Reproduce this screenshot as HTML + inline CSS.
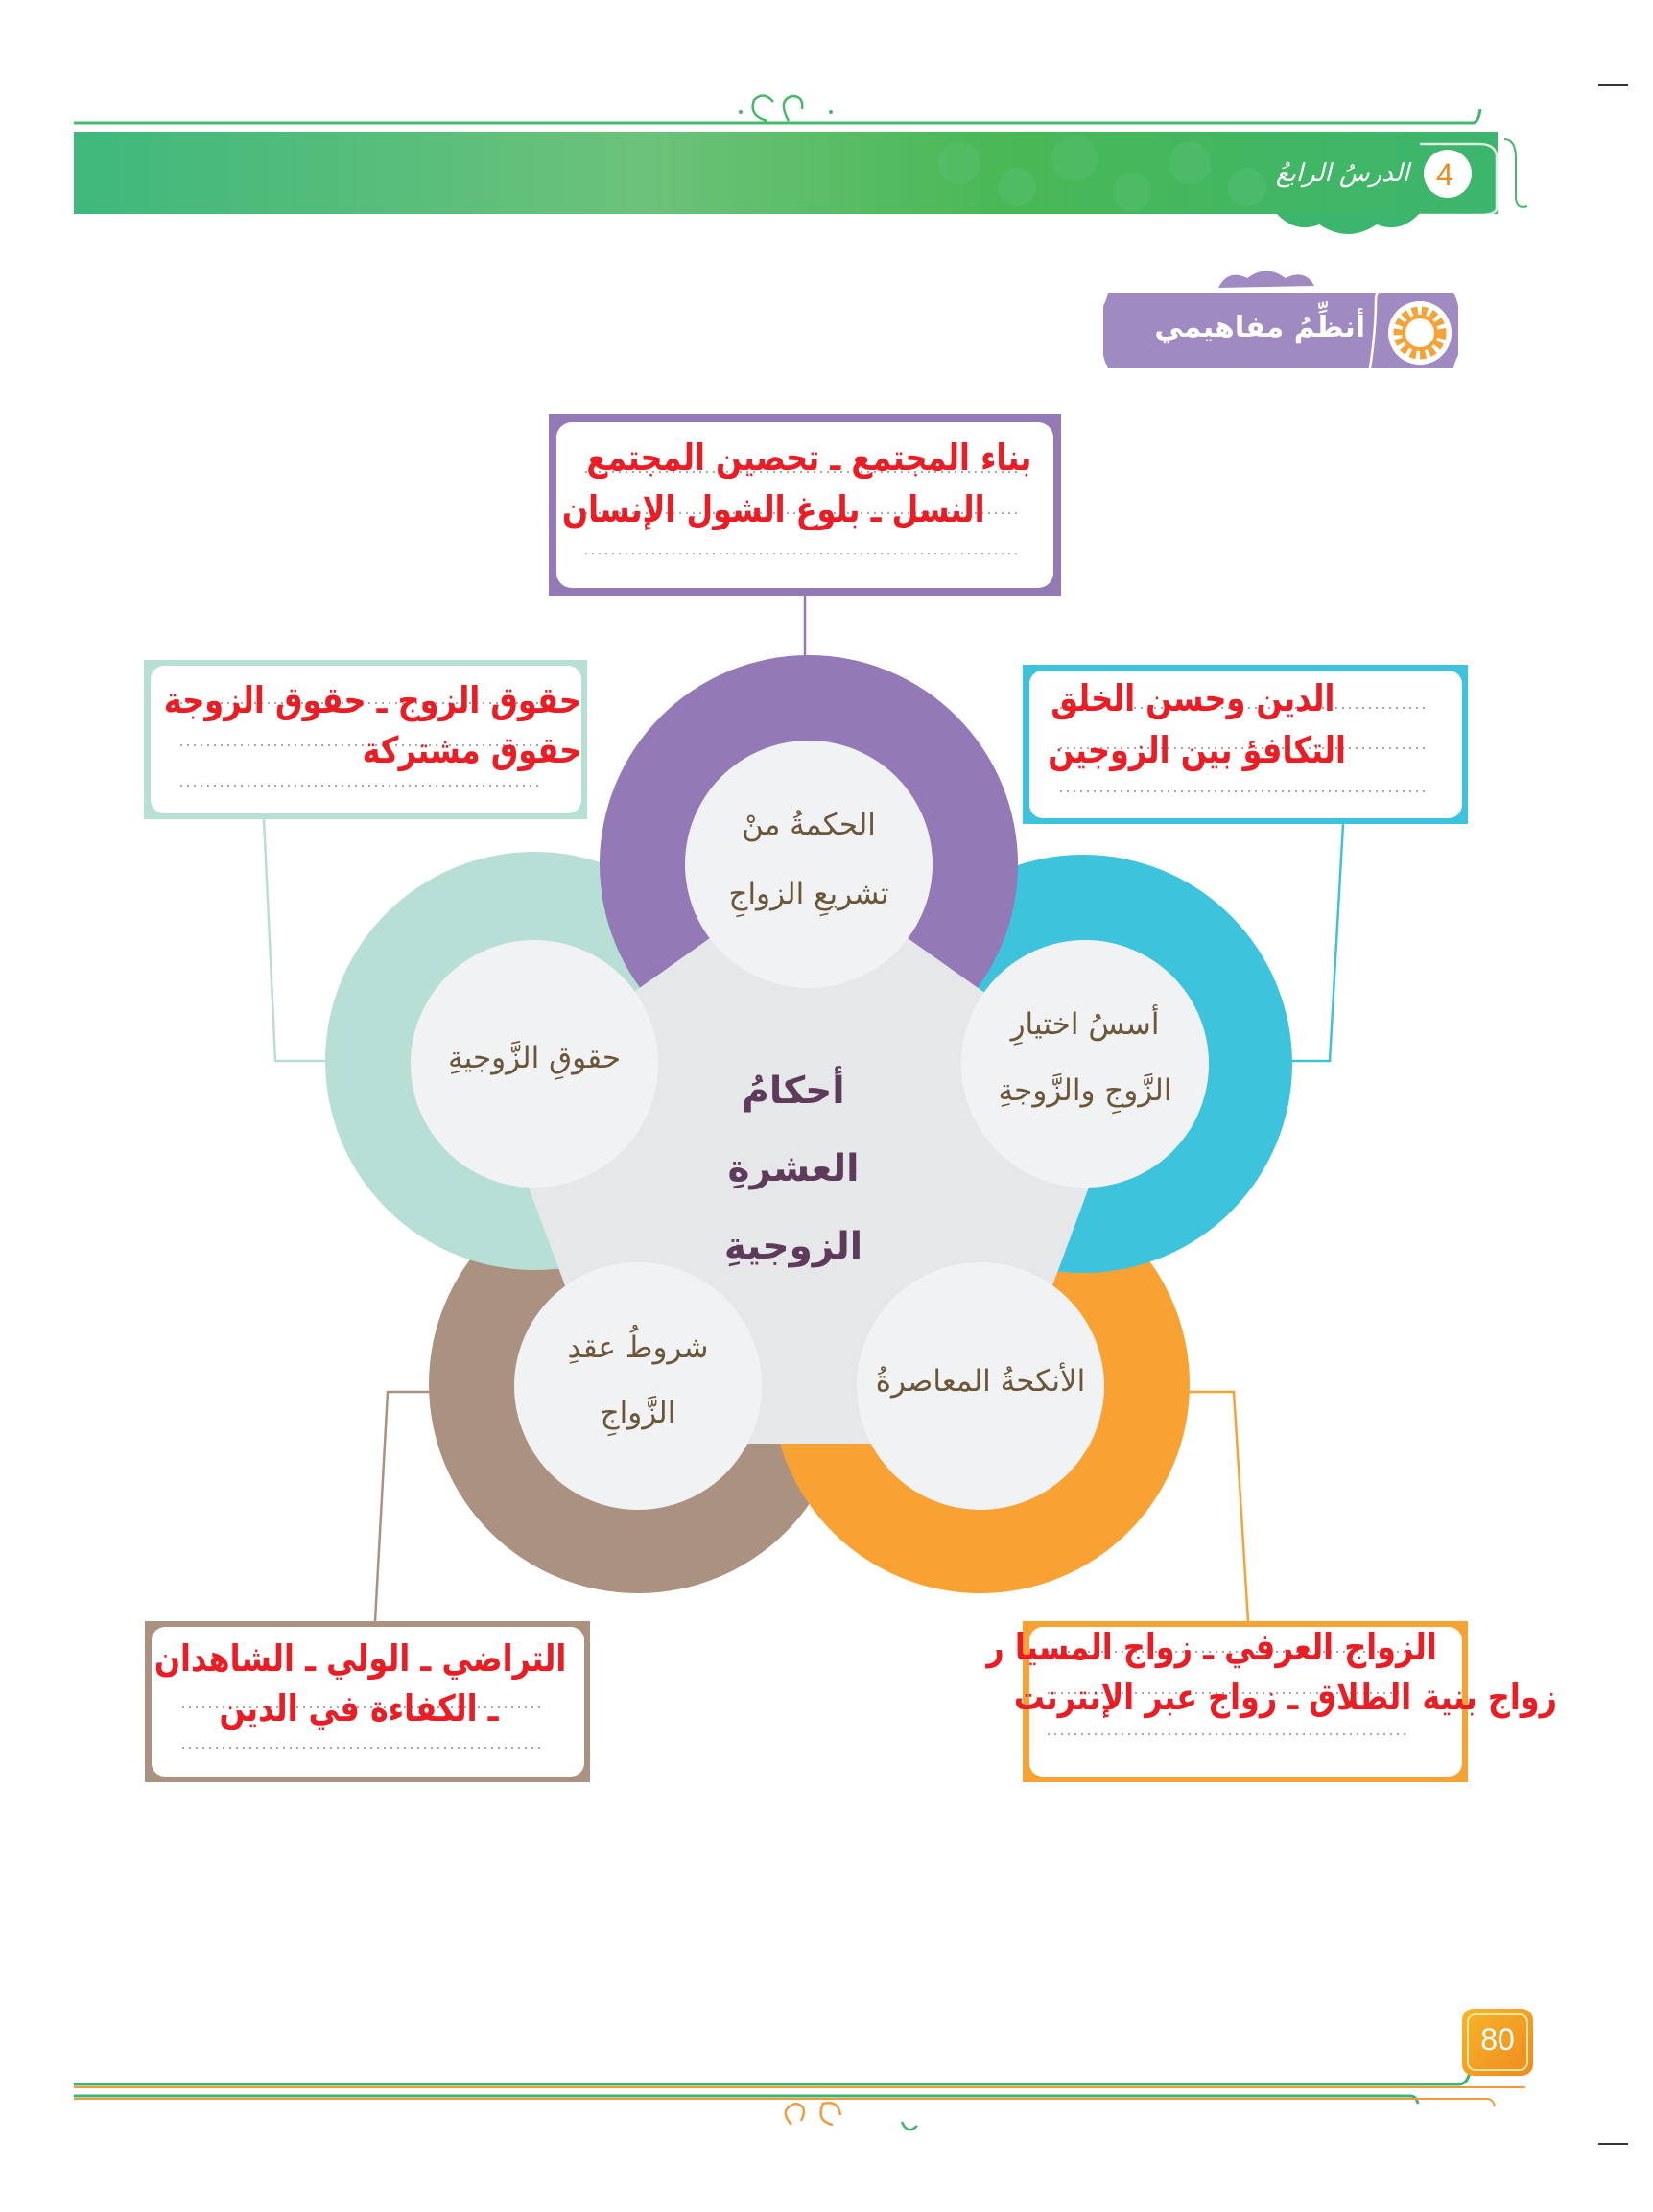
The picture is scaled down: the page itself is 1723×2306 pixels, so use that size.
<!DOCTYPE html>
<html><head><meta charset="utf-8">
<style>
html,body{margin:0;padding:0;background:#fff;}
body{width:1723px;height:2306px;position:relative;overflow:hidden;font-family:"DejaVu Sans","Liberation Sans",sans-serif;}
.t{position:absolute;direction:rtl;white-space:nowrap;line-height:1;}
.red{color:#ec1c24;font-weight:bold;font-size:38px;transform:scaleX(0.84);transform-origin:100% 50%;}
.in{color:#6b5638;font-size:31px;text-align:center;width:260px;font-family:"DejaVu Serif","DejaVu Sans",serif;}
.cen{color:#5e3b5b;font-weight:bold;font-size:39px;text-align:center;width:300px;}
</style></head><body>
<svg width="1723" height="2306" style="position:absolute;left:0;top:0">
<defs>
<linearGradient id="bn" x1="0" x2="1">
<stop offset="0" stop-color="#3fb87c"/><stop offset="0.4" stop-color="#6cc27a"/><stop offset="0.65" stop-color="#49b855"/><stop offset="1" stop-color="#3cb56e"/>
</linearGradient>
<linearGradient id="pg" x1="0" y1="0" x2="1" y2="1"><stop offset="0" stop-color="#f7b52a"/><stop offset="1" stop-color="#ef8a1f"/></linearGradient>
</defs>
<path d="M77 128 H1535 q6 0 8 -14" stroke="#46b86a" stroke-width="3" fill="none"/>
<path d="M800 126 q-20 -5 -14 -22 q10 -10 20 2 M822 126 q-12 -22 4 -26 q12 0 10 14" stroke="#46b86a" stroke-width="2.5" fill="none"/>
<circle cx="772" cy="117" r="2" fill="#46b86a"/><circle cx="866" cy="117" r="2" fill="#46b86a"/>
<rect x="77" y="138" width="1484" height="85" fill="url(#bn)"/>
<g fill="#5cc27a" opacity="0.35">
<circle cx="1000" cy="170" r="22"/><circle cx="1060" cy="195" r="20"/><circle cx="1120" cy="165" r="24"/><circle cx="1180" cy="200" r="20"/><circle cx="1240" cy="170" r="22"/><circle cx="1300" cy="195" r="20"/>
</g>
<path d="M1330 222 q20 22 45 12 q30 20 60 0 q25 10 45 -12 z" fill="#3cb56e"/>
<path d="M1480 150 h62 q16 0 18 12 v56 q-2 6 -18 6 h-62" stroke="#fff" stroke-width="2.5" fill="none" opacity="0.8"/>
<path d="M1568 145 q12 0 12 20 v40 q0 14 12 10" stroke="#46b86a" stroke-width="2" fill="none"/>
<circle cx="1509" cy="181" r="25" fill="#fff"/>
<line x1="1666" y1="89" x2="1697" y2="89" stroke="#333" stroke-width="2"/>
<line x1="1666" y1="2235" x2="1697" y2="2235" stroke="#333" stroke-width="2"/>
<path d="M1270 300 q10 -20 30 -10 q20 -15 40 0 q20 -10 30 8 z" fill="#a08ac2"/>
<path d="M1155 305 H1515 q4 8 5 14 V370 q-4 8 -5 14 H1155 q-4 -8 -5 -14 V319 q4 -8 5 -14z" fill="#a08ac2"/>
<path d="M1428 384 q6 -40 6 -70 q0 -14 12 -16" stroke="#fff" stroke-width="2.5" fill="none"/>
<circle cx="1480" cy="347" r="33" fill="#fff"/>
<circle cx="1480" cy="347" r="23" fill="none" stroke="#f7a234" stroke-width="9" stroke-dasharray="6 4"/>
<circle cx="1480" cy="347" r="17" fill="none" stroke="#f7a234" stroke-width="4"/>
<rect x="572" y="432" width="534" height="189" fill="#9379b5"/>
<rect x="580" y="440" width="518" height="173" rx="16" fill="#fff"/>
<rect x="150" y="688" width="462" height="166" fill="#b8dfd6"/>
<rect x="157" y="694" width="449" height="154" rx="14" fill="#fff"/>
<rect x="1066" y="693" width="464" height="166" fill="#3ec3dd"/>
<rect x="1073" y="699" width="451" height="154" rx="14" fill="#fff"/>
<rect x="151" y="1690" width="464" height="168" fill="#ab9280"/>
<rect x="158" y="1696" width="451" height="156" rx="14" fill="#fff"/>
<rect x="1066" y="1690" width="464" height="168" fill="#f9a234"/>
<rect x="1073" y="1696" width="451" height="156" rx="14" fill="#fff"/>
<g stroke="#a7a7a7" stroke-width="2" stroke-dasharray="2 5">
<line x1="610" y1="492" x2="1060" y2="492"/><line x1="610" y1="535" x2="1060" y2="535"/><line x1="610" y1="577" x2="1060" y2="577"/>
<line x1="188" y1="733" x2="565" y2="733"/><line x1="188" y1="777" x2="565" y2="777"/><line x1="188" y1="819" x2="565" y2="819"/>
<line x1="1105" y1="738" x2="1485" y2="738"/><line x1="1105" y1="780" x2="1485" y2="780"/><line x1="1105" y1="825" x2="1485" y2="825"/>
<line x1="190" y1="1780" x2="565" y2="1780"/><line x1="190" y1="1822" x2="565" y2="1822"/>
<line x1="1092" y1="1722" x2="1470" y2="1722"/><line x1="1092" y1="1765" x2="1470" y2="1765"/><line x1="1092" y1="1808" x2="1470" y2="1808"/>
</g>
<line x1="839" y1="621" x2="839" y2="690" stroke="#9379b5" stroke-width="2.5"/>
<polyline points="275,854 287,1106 342,1106" stroke="#b8dfd6" stroke-width="2.5" fill="none"/>
<polyline points="1400,859 1386,1106 1344,1106" stroke="#3ec3dd" stroke-width="2.5" fill="none"/>
<polyline points="450,1451 404,1451 391,1690" stroke="#ab9280" stroke-width="2.5" fill="none"/>
<polyline points="1236,1451 1286,1451 1301,1690" stroke="#f9a234" stroke-width="2.5" fill="none"/>
<circle cx="665" cy="1443" r="218" fill="#ab9280"/>
<circle cx="557" cy="1106" r="218" fill="#b8dfd6"/>
<circle cx="1022" cy="1443" r="218" fill="#f9a234"/>
<circle cx="1129" cy="1109" r="218" fill="#3ec3dd"/>
<circle cx="843" cy="901" r="218" fill="#9379b5"/>
<polygon points="843,905 1172,1138 1036,1505 650,1505 514,1138" fill="#e6e7e9"/>
<g fill="#f1f2f4">
<circle cx="843" cy="901" r="129"/><circle cx="1131" cy="1109" r="129"/><circle cx="557" cy="1109" r="129"/>
<circle cx="665" cy="1445" r="129"/><circle cx="1022" cy="1445" r="129"/>
</g>
<path d="M77 2173 H1520 q10 0 12 -14 V2120 q0 -12 10 -12" stroke="#3cb56e" stroke-width="3" fill="none"/>
<path d="M77 2176 H1590" stroke="#f39b3a" stroke-width="2" fill="none"/>
<path d="M77 2185 H1470 q6 0 8 8" stroke="#3cb56e" stroke-width="3" fill="none"/>
<path d="M77 2188 H1550 q6 0 8 8" stroke="#f39b3a" stroke-width="2" fill="none"/>
<rect x="1524" y="2094" width="74" height="70" rx="12" fill="url(#pg)"/>
<rect x="1530" y="2100" width="62" height="58" rx="8" fill="none" stroke="#fde8a0" stroke-width="2"/>
<path d="M825 2215 q-14 -16 4 -22 q14 2 6 18 M868 2215 q-18 -4 -10 -22 q16 -4 18 12" stroke="#f39b3a" stroke-width="2.5" fill="none"/>
<path d="M940 2212 q6 14 16 4" stroke="#3cb56e" stroke-width="2.5" fill="none"/>
</svg>
<div class="t" style="left:1509px;top:166px;width:0"><span style="position:absolute;left:-12px;color:#ef8a1f;font-size:32px;font-family:'Liberation Sans',sans-serif;">4</span></div>
<div class="t" style="right:254px;top:168px;color:#fff;font-size:26px;font-style:italic;">الدرسُ الرابعُ</div>
<div class="t" style="right:300px;top:327px;color:#fff;font-size:30px;font-weight:bold;">أنظِّمُ مفاهيمي</div>
<div class="t red" style="right:648px;top:458px;">بناء المجتمع ـ تحصين المجتمع</div>
<div class="t red" style="right:696px;top:512px;">النسل ـ بلوغ الشول الإنسان</div>
<div class="t red" style="right:1117px;top:711px;">حقوق الزوج ـ حقوق الزوجة</div>
<div class="t red" style="right:1117px;top:763px;">حقوق مشتركة</div>
<div class="t red" style="right:332px;top:709px;">الدين وحسن الخلق</div>
<div class="t red" style="right:320px;top:763px;">التكافؤ بين الزوجين</div>
<div class="t red" style="right:1133px;top:1710px;">التراضي ـ الولي ـ الشاهدان</div>
<div class="t red" style="right:1203px;top:1762px;">ـ الكفاءة في الدين</div>
<div class="t red" style="right:225px;top:1698px;">الزواج العرفي ـ زواج المسيا ر</div>
<div class="t red" style="right:100px;top:1750px;">زواج بنية الطلاق ـ زواج عبر الإنترنت</div>
<div class="t in" style="left:713px;top:845px;">الحكمةُ منْ</div>
<div class="t in" style="left:713px;top:917px;">تشريعِ الزواجِ</div>
<div class="t in" style="left:1001px;top:1053px;">أسسُ اختيارِ</div>
<div class="t in" style="left:1001px;top:1122px;">الزَّوجِ والزَّوجةِ</div>
<div class="t in" style="left:427px;top:1088px;">حقوقِ الزَّوجيةِ</div>
<div class="t in" style="left:535px;top:1390px;">شروطُ عقدِ</div>
<div class="t in" style="left:535px;top:1458px;">الزَّواجِ</div>
<div class="t in" style="left:892px;top:1425px;">الأنكحةُ المعاصرةُ</div>
<div class="t cen" style="left:677px;top:1118px;">أحكامُ</div>
<div class="t cen" style="left:677px;top:1199px;">العشرةِ</div>
<div class="t cen" style="left:677px;top:1280px;">الزوجيةِ</div>
<div class="t" style="left:1536px;top:2110px;width:50px;text-align:center;color:#fff;font-size:32px;font-family:'Liberation Sans',sans-serif;direction:ltr;">80</div>
</body></html>
